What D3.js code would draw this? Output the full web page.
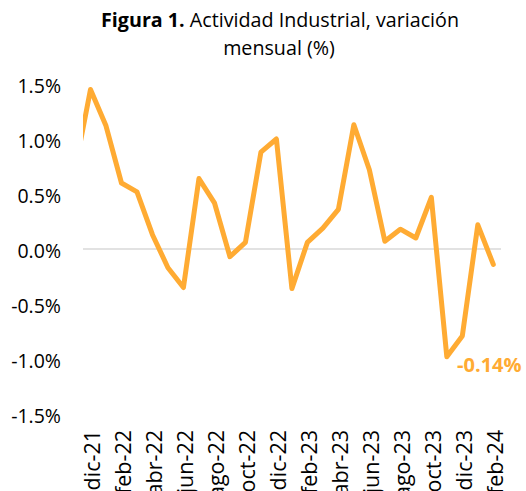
<!DOCTYPE html>
<html>
<head>
<meta charset="utf-8">
<script src="https://cdn.jsdelivr.net/npm/d3@7"></script>
<style>
  body { margin: 0; background: #fff; }
  svg text { font-family: "Open Sans", "Noto Sans", sans-serif; fill: #000; }
</style>
</head>
<body>
<div id="visContainer"></div>
<script>
'use strict';

//months (first one is only partly visible at the left edge)
var months = ['nov-21','dic-21','ene-22','feb-22','mar-22','abr-22','may-22','jun-22',
    'jul-22','ago-22','sep-22','oct-22','nov-22','dic-22','ene-23','feb-23','mar-23',
    'abr-23','may-23','jun-23','jul-23','ago-23','sep-23','oct-23','nov-23','dic-23',
    'ene-24','feb-24'];

//monthly variation, %
var values = [0.72, 1.45, 1.12, 0.60, 0.52, 0.13, -0.17, -0.35, 0.64, 0.42, -0.07, 0.06,
    0.88, 1.00, -0.36, 0.06, 0.19, 0.36, 1.13, 0.72, 0.07, 0.18, 0.10, 0.47, -0.98,
    -0.79, 0.22, -0.14];

//which months get a label on the x axis
var tickMonths = ['dic-21','feb-22','abr-22','jun-22','ago-22','oct-22','dic-22',
    'feb-23','abr-23','jun-23','ago-23','oct-23','dic-23','feb-24'];

var yTicks = [-1.5, -1.0, -0.5, 0.0, 0.5, 1.0, 1.5];

var width = 526;
var height = 491;
var lineColor = '#FFAB33';

var svg = d3.select('#visContainer')
    .append('svg')
    .attr('width', width)
    .attr('height', height);

// scales
var x = d3.scalePoint()
    .domain(months)
    .range([75, 493.3]);

var y = d3.scaleLinear()
    .domain([-1.5, 1.5])
    .range([414, 84]);

var plotLeft = 83, plotRight = 501;

// title
var title = svg.append('text')
    .attr('text-anchor', 'middle')
    .style('font-size', '19.7px');
title.append('tspan')
    .attr('x', 280).attr('y', 27)
    .style('font-weight', 'bold')
    .text('Figura 1.');
title.append('tspan')
    .text(' Actividad Industrial, variación');
title.append('tspan')
    .attr('x', 279).attr('y', 55)
    .text('mensual (%)');

// y axis labels, no line
var yAxis = d3.axisLeft(y)
    .tickValues(yTicks)
    .tickSize(0)
    .tickPadding(0)
    .tickFormat(function(d) { return d.toFixed(1) + '%'; });

svg.append('g')
    .attr('transform', 'translate(61,2)')
    .call(yAxis)
    .call(function(g) { g.select('.domain').remove(); })
    .selectAll('text')
    .style('font-size', '19.5px')
    .style('font-family', '"Open Sans", "Noto Sans", sans-serif')
    .attr('fill', '#000');

// zero line
svg.append('line')
    .attr('x1', plotLeft)
    .attr('x2', plotRight)
    .attr('y1', y(0))
    .attr('y2', y(0))
    .style('stroke', '#D9D9D9')
    .style('stroke-width', 1.5);

// x axis labels, rotated
var xAxis = d3.axisBottom(x)
    .tickValues(tickMonths)
    .tickSize(0)
    .tickPadding(0);

var xg = svg.append('g')
    .attr('transform', 'translate(0,430)')
    .call(xAxis);
xg.select('.domain').remove();
xg.selectAll('text')
    .attr('transform', 'translate(9.5,0) rotate(-90)')
    .attr('x', 0)
    .attr('y', 0)
    .attr('dy', null)
    .attr('text-anchor', 'end')
    .style('font-size', '21.5px')
    .style('font-family', '"Open Sans", "Noto Sans", sans-serif')
    .attr('fill', '#000');

// clip so the line starts at the plot edge
svg.append('defs')
    .append('clipPath')
    .attr('id', 'plotClip')
    .append('rect')
    .attr('x', plotLeft)
    .attr('y', 0)
    .attr('width', width - plotLeft)
    .attr('height', height);

var line = d3.line()
    .x(function(d, i) { return x(months[i]); })
    .y(function(d) { return y(d); });

svg.append('path')
    .datum(values)
    .attr('clip-path', 'url(#plotClip)')
    .attr('d', line)
    .style('fill', 'none')
    .style('stroke', lineColor)
    .style('stroke-width', 5)
    .style('stroke-linejoin', 'round')
    .style('stroke-linecap', 'round');

// label on the last value
var last = values.length - 1;
svg.append('text')
    .attr('x', x(months[last]) - 4)
    .attr('y', 371.5)
    .attr('text-anchor', 'middle')
    .style('font-size', '20px')
    .style('font-weight', 'bold')
    .style('fill', lineColor)
    .text(values[last].toFixed(2) + '%');
</script>
</body>
</html>
